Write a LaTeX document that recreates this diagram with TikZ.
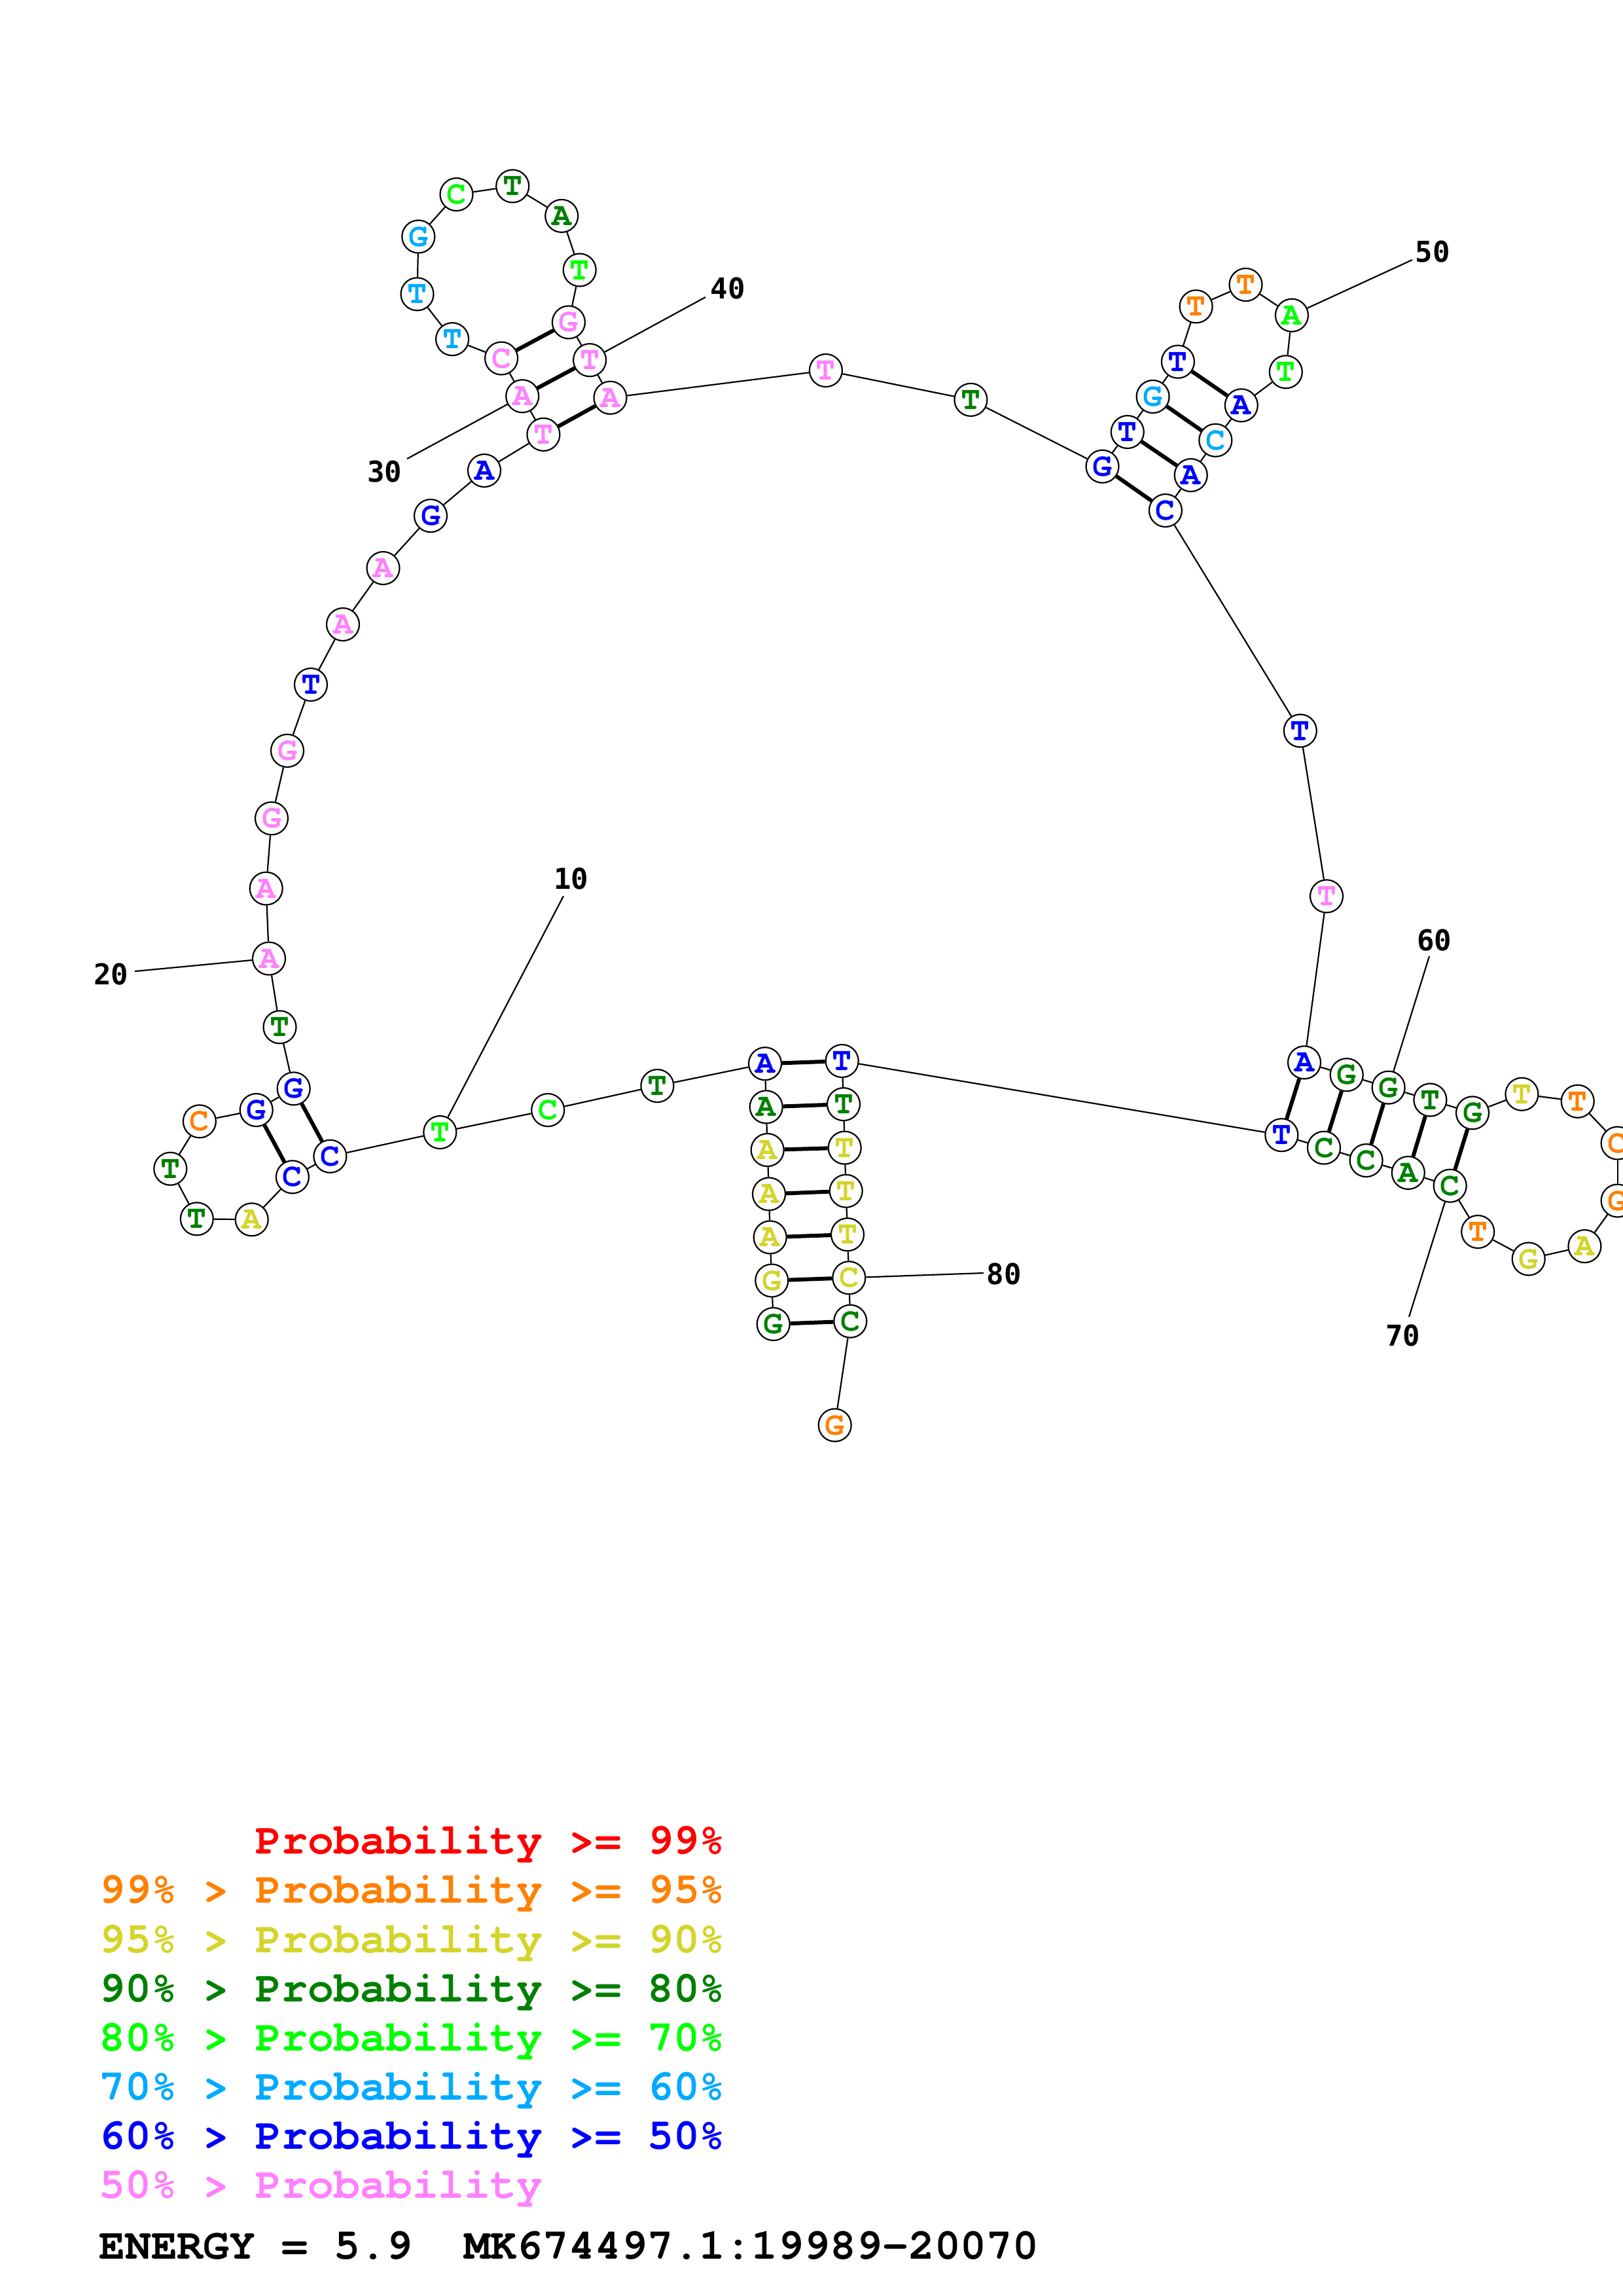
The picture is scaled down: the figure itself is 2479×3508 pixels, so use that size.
\documentclass[tikz,border=0pt]{standalone}
\usepackage{fontspec}
\newfontfamily\courfont{TeX Gyre Cursor}
\newfontfamily\numfamily{DejaVu Sans Mono}
\definecolor{cred}{HTML}{FF0000}
\definecolor{cor}{HTML}{FF8000}
\definecolor{cye}{HTML}{D4D42A}
\definecolor{cdg}{HTML}{008000}
\definecolor{cgr}{HTML}{00FF00}
\definecolor{csk}{HTML}{00AAFF}
\definecolor{cbl}{HTML}{0000FF}
\definecolor{cpk}{HTML}{FF80FF}
\begin{document}
\begin{tikzpicture}[x=1pt,y=-1pt,
  nt/.style={circle,draw=black,line width=2.2pt,fill=white,minimum size=50pt,inner sep=0pt,
    font=\courfont\bfseries\fontsize{50}{50}\selectfont},
  bb/.style={line width=2.2pt},
  bp/.style={line width=6pt},
  lbl/.style={inner sep=0pt,font=\numfamily\bfseries\fontsize{44}{44}\selectfont},
  leg/.style={anchor=base west,inner sep=0pt,font=\courfont\bfseries\fontsize{66.5}{66.5}\selectfont}]
\useasboundingbox (0,0) rectangle (2479,3508);
\fill[white] (0,0) rectangle (2479,3508);
% nucleotides
\foreach \i/\s/\c/\x/\y in {
1/G/cdg/1181.7/2023, 2/G/cye/1179.3/1956.5, 3/A/cye/1176.7/1890.4, 4/A/cye/1175/1824.3,
5/A/cye/1172.7/1757, 6/A/cdg/1170.7/1691.3, 7/A/cbl/1169/1625.2, 8/T/cdg/1004.4/1659,
9/C/cgr/837.2/1696, 10/T/cgr/672.3/1730, 11/C/cbl/504.4/1766.7, 12/C/cbl/446.9/1798.3,
13/A/cye/384.7/1863.3, 14/T/cdg/300.8/1862.3, 15/T/cdg/260.3/1785.7, 16/C/cor/304.9/1713.3,
17/G/cbl/391.7/1696, 18/G/cbl/448.7/1663.3, 19/T/cdg/427.5/1569.3, 20/A/cpk/411/1464.5,
21/A/cpk/406.7/1357.5, 22/G/cpk/415/1250.4, 23/G/cpk/439/1147, 24/T/cbl/475/1046,
25/A/cpk/524/954, 26/A/cpk/585.5/868, 27/G/cbl/658/788, 28/A/cbl/740/719,
29/T/cpk/830.4/663.9, 30/A/cpk/798.2/605.3, 31/C/cpk/766.1/547.5, 32/T/csk/691.1/518.2,
33/T/csk/637.5/449.4, 34/G/csk/639.3/361.5, 35/C/cgr/697.5/297.1, 36/T/cdg/783.2/284.4,
37/A/cdg/858.2/329.9, 38/T/cgr/885.7/412.5, 39/G/cpk/868.9/492.4, 40/T/cpk/901.1/550.2,
41/A/cpk/932.5/607.7, 42/T/cpk/1261.9/566, 43/T/cdg/1483.4/610.8, 44/G/cbl/1684.5/712.7,
45/T/cbl/1722.8/660, 46/G/csk/1761.6/606, 47/T/cbl/1799.9/552.7, 48/T/cor/1827.6/468.3,
49/T/cor/1903.5/435, 50/A/cgr/1973.9/481.7, 51/T/cgr/1964.8/568.3, 52/A/cbl/1896.8/619.3,
53/C/csk/1857.3/672.7, 54/A/cbl/1819.7/726, 55/C/cbl/1780.9/780, 56/T/cbl/1986.8/1116.5,
57/T/cpk/2027/1369.3, 58/A/cbl/1993/1623.3, 59/G/cdg/2057.7/1642.2, 60/G/cdg/2121.6/1661.6,
61/T/cdg/2185.4/1680.5, 62/G/cdg/2250/1700.3, 63/T/cye/2325.4/1671.7, 64/T/cor/2410.7/1682.7,
65/C/cor/2471.6/1746.5, 66/G/cor/2471.6/1834.5, 67/A/cye/2421.4/1904.1, 68/G/cye/2335.7/1923.5,
69/T/cor/2258.2/1882, 70/C/cdg/2215.7/1811.7, 71/A/cdg/2151.8/1791.9, 72/C/cdg/2087.6/1773,
73/C/cdg/2023/1753.6, 74/T/cbl/1958.3/1734.2, 75/T/cbl/1286.7/1621, 76/T/cdg/1289/1687.1,
77/T/cye/1290.7/1753.6, 78/T/cye/1292.7/1819.7, 79/T/cye/1295/1886.2, 80/C/cye/1297.3/1952.3,
81/C/cdg/1299.3/2018.7, 82/G/cor/1275.7/2177.4}
{\node[nt,text=\c] (n\i) at (\x,\y) {\s};}
% backbone
\foreach \i in {1,...,81}{\pgfmathtruncatemacro\j{\i+1}\draw[bb] (n\i) -- (n\j);}
% base pairs
\foreach \p/\q in {1/81,2/80,3/79,4/78,5/77,6/76,7/75,11/18,12/17,29/41,30/40,31/39,
  44/55,45/54,46/53,47/52,58/74,59/73,60/72,61/71,62/70}
{\draw[bp] (n\p) -- (n\q);}
% position labels
\foreach \k/\lx/\ly/\ex/\ey in {10/872.6/1342.4/861/1369, 20/170/1488/206/1484,
  30/587.7/720.6/622/701, 40/1112/440/1078/454, 50/2189/384/2158/397,
  60/2191.7/1436.2/2184/1461, 70/2143.7/2040.5/2153/2012, 80/1534/1946.4/1503/1945}
{\node[lbl] (l\k) at (\lx,\ly) {\k};
 \coordinate (e\k) at (\ex,\ey);
 \draw[bb] (n\k) -- (e\k);}
% legend
\node[leg,text=cred] (g1) at (151,2832) {\phantom{99\% > }Probability >= 99\%};
\node[leg,text=cor] (g2) at (151,2907) {99\% > Probability >= 95\%};
\node[leg,text=cye] (g3) at (151,2983) {95\% > Probability >= 90\%};
\node[leg,text=cdg] (g4) at (151,3058) {90\% > Probability >= 80\%};
\node[leg,text=cgr] (g5) at (151,3133) {80\% > Probability >= 70\%};
\node[leg,text=csk] (g6) at (151,3208) {70\% > Probability >= 60\%};
\node[leg,text=cbl] (g7) at (151,3283) {60\% > Probability >= 50\%};
\node[leg,text=cpk] (g8) at (151,3358) {50\% > Probability};
\node[leg,text=black] (g9) at (151,3451) {ENERGY = 5.9\ \ MK674497.1:19989-20070};
\end{tikzpicture}
\end{document}
